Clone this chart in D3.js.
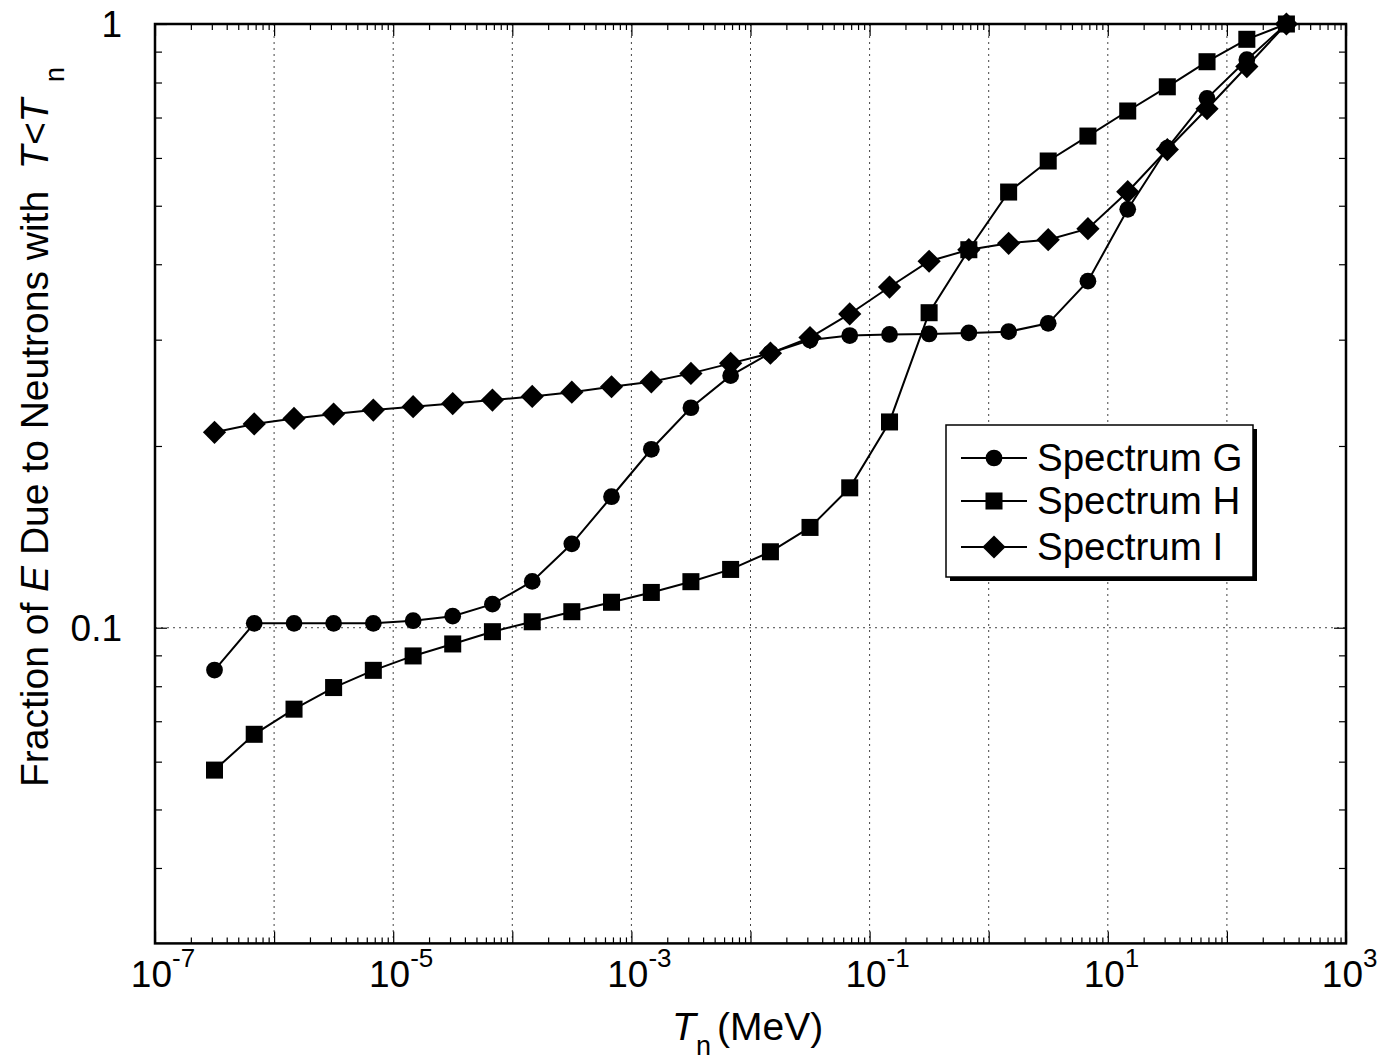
<!DOCTYPE html>
<html>
<head>
<meta charset="utf-8">
<script src="https://cdnjs.cloudflare.com/ajax/libs/d3/7.8.5/d3.min.js"></script>
<style>
  html, body { margin: 0; padding: 0; background: #fff; overflow: hidden; }
  svg { display: block; }
  svg text { font-family: "Liberation Sans", Arial, Helvetica, sans-serif; fill: #000; }
</style>
</head>
<body>
<div id="plotdiv"></div>
<script>
// Neutron kinetic energy T_n (MeV), one point every third of a decade
var energies = [3.16e-7, 6.81e-7, 1.47e-6, 3.16e-6, 6.81e-6, 1.47e-5, 3.16e-5, 6.81e-5,
  1.47e-4, 3.16e-4, 6.81e-4, 1.47e-3, 3.16e-3, 6.81e-3, 1.47e-2, 3.16e-2, 6.81e-2,
  0.147, 0.316, 0.681, 1.47, 3.16, 6.81, 14.7, 31.6, 68.1, 147, 316];

// Fraction of E due to neutrons with T < T_n
var spectrumG = [0.0851, 0.1017, 0.1017, 0.1017, 0.1017, 0.1027, 0.1045, 0.1094,
  0.1193, 0.1377, 0.1648, 0.1975, 0.2314, 0.2615, 0.2851, 0.2996, 0.3048,
  0.3060, 0.3066, 0.3078, 0.3093, 0.3193, 0.3750, 0.4932, 0.6230, 0.7531, 0.8727, 1.0];
var spectrumH = [0.0581, 0.0666, 0.0733, 0.0796, 0.0850, 0.0898, 0.0940, 0.0985,
  0.1023, 0.1063, 0.1102, 0.1144, 0.1192, 0.1249, 0.1336, 0.1466, 0.1705,
  0.2192, 0.3325, 0.4228, 0.5268, 0.5930, 0.6522, 0.7176, 0.7870, 0.8660, 0.9433, 1.0];
var spectrumI = [0.2107, 0.2175, 0.2222, 0.2259, 0.2294, 0.2323, 0.2351, 0.2383,
  0.2416, 0.2456, 0.2507, 0.2555, 0.2638, 0.2741, 0.2849, 0.3024, 0.3309,
  0.3667, 0.4046, 0.4228, 0.4333, 0.4393, 0.4581, 0.5275, 0.6196, 0.7238, 0.8503, 1.0];

var seriesNames = ["Spectrum G", "Spectrum H", "Spectrum I"];
var seriesMarkers = ["circle", "square", "diamond"];

// Tick labels
var xTickValues = [1e-7, 1e-5, 1e-3, 1e-1, 1e1, 1e3];
var xTickExponents = ["-7", "-5", "-3", "-1", "1", "3"];
var yTickValues = [0.1, 1];
var yTickLabels = ["0.1", "1"];

// Size of figure and margins
var outerWidth = 1397;
var outerHeight = 1064;
var margin = { left: 155, top: 24, right: 51, bottom: 120.6 };
var innerWidth = outerWidth - margin.left - margin.right;
var innerHeight = outerHeight - margin.top - margin.bottom;

var vis = d3.select("#plotdiv").append("svg")
  .attr("width", outerWidth)
  .attr("height", outerHeight);

var g = vis.append("g")
  .attr("transform", "translate(" + margin.left + "," + margin.top + ")");

// Log scales on both axes
var xScale = d3.scaleLog().domain([1e-7, 1e3]).range([0, innerWidth]);
var yScale = d3.scaleLog().domain([0.03, 1]).range([innerHeight, 0]);

// Minor tick positions (every 2..9 of each decade)
var xMinor = [];
for (var e = -7; e < 3; e++) {
  for (var m = 2; m <= 9; m++) xMinor.push(m * Math.pow(10, e));
}
var yMinor = [0.04, 0.05, 0.06, 0.07, 0.08, 0.09, 0.2, 0.3, 0.4, 0.5, 0.6, 0.7, 0.8, 0.9];
var xMajor = [];
for (var e2 = -7; e2 <= 3; e2++) xMajor.push(Math.pow(10, e2));

// Dotted grid on the decades
var gGrid = g.append("g");
gGrid.selectAll("line.vx").data(xMajor.slice(1, -1)).enter().append("line")
  .attr("x1", function(d) { return xScale(d); })
  .attr("x2", function(d) { return xScale(d); })
  .attr("y1", 0).attr("y2", innerHeight)
  .attr("stroke", "#444").attr("stroke-width", 1)
  .attr("stroke-dasharray", "2,4");
gGrid.append("line")
  .attr("x1", 0).attr("x2", innerWidth)
  .attr("y1", yScale(0.1)).attr("y2", yScale(0.1))
  .attr("stroke", "#444").attr("stroke-width", 1)
  .attr("stroke-dasharray", "2,4");

// Ticks on all four sides, labels drawn separately
function tickAxis(axisFn, scale, values, size, transform) {
  var ga = g.append("g")
    .attr("transform", transform)
    .call(axisFn(scale).tickValues(values).tickSize(size).tickFormat("").tickSizeOuter(0));
  ga.select(".domain").remove();
  ga.selectAll("text").remove();
  ga.selectAll("line").attr("stroke", "#000").attr("stroke-width", 1.2);
}
tickAxis(d3.axisBottom, xScale, xMinor, -6, "translate(0," + innerHeight + ")");
tickAxis(d3.axisBottom, xScale, xMajor, -12, "translate(0," + innerHeight + ")");
tickAxis(d3.axisTop, xScale, xMinor, -6, "translate(0,0)");
tickAxis(d3.axisTop, xScale, xMajor, -12, "translate(0,0)");
tickAxis(d3.axisLeft, yScale, yMinor, -7, "translate(0,0)");
tickAxis(d3.axisLeft, yScale, yTickValues, -12, "translate(0,0)");
tickAxis(d3.axisRight, yScale, yMinor, -7, "translate(" + innerWidth + ",0)");
tickAxis(d3.axisRight, yScale, yTickValues, -12, "translate(" + innerWidth + ",0)");

// Series lines and markers
var allSeries = [spectrumG, spectrumH, spectrumI];
var line = d3.line()
  .x(function(d, i) { return xScale(energies[i]); })
  .y(function(d) { return yScale(d); });

function markerPath(kind) {
  if (kind === "circle") return d3.symbol().type(d3.symbolCircle).size(220)();
  if (kind === "square") return d3.symbol().type(d3.symbolSquare).size(290)();
  return d3.symbol().type(d3.symbolSquare).size(270)();
}
function markerRotate(kind) { return kind === "diamond" ? " rotate(45)" : ""; }

allSeries.forEach(function(vals, s) {
  var gs = g.append("g");
  gs.append("path")
    .attr("d", line(vals))
    .attr("fill", "none")
    .attr("stroke", "#000")
    .attr("stroke-width", 2);
  gs.selectAll("path.mk").data(vals).enter().append("path")
    .attr("class", "mk")
    .attr("d", markerPath(seriesMarkers[s]))
    .attr("transform", function(d, i) {
      return "translate(" + xScale(energies[i]) + "," + yScale(d) + ")" + markerRotate(seriesMarkers[s]);
    })
    .attr("fill", "#000");
});

// Axes box
g.append("rect")
  .attr("width", innerWidth).attr("height", innerHeight)
  .attr("fill", "none").attr("stroke", "#000").attr("stroke-width", 2.5);

// X tick labels: 10 with a superscript exponent (separate text pieces)
xTickValues.forEach(function(v, i) {
  var cx = xScale(v);
  g.append("text")
    .attr("x", cx + 17)
    .attr("y", innerHeight + 44)
    .attr("text-anchor", "end")
    .style("font-size", "37px")
    .text("10");
  g.append("text")
    .attr("x", cx + 17)
    .attr("y", innerHeight + 24)
    .attr("text-anchor", "start")
    .style("font-size", "26px")
    .text(xTickExponents[i]);
});

// Y tick labels
yTickValues.forEach(function(v, i) {
  g.append("text")
    .attr("x", -33)
    .attr("y", yScale(v))
    .attr("dy", "0.35em")
    .attr("text-anchor", "end")
    .style("font-size", "37px")
    .text(yTickLabels[i]);
});

// X axis title: T_n (MeV)
vis.append("text")
  .attr("x", 672).attr("y", 1040)
  .style("font-size", "39px").style("font-style", "italic")
  .text("T");
vis.append("text")
  .attr("x", 696).attr("y", 1055)
  .style("font-size", "27px")
  .text("n");
vis.append("text")
  .attr("x", 717).attr("y", 1040)
  .style("font-size", "39px")
  .text("(MeV)");

// Y axis title, rotated
var yLabel = vis.append("text")
  .attr("transform", "translate(48,787) rotate(-90)")
  .style("font-size", "39px");
yLabel.append("tspan").text("Fraction of ");
yLabel.append("tspan").style("font-style", "italic").text("E");
yLabel.append("tspan").text(" Due to Neutrons with\u00a0 ");
yLabel.append("tspan").style("font-style", "italic").text("T<T");
vis.append("text")
  .attr("transform", "translate(64,82) rotate(-90)")
  .style("font-size", "27px")
  .text("n");

// Legend with drop shadow
var legend = vis.append("g").attr("transform", "translate(946,425)");
var legendW = 307, legendH = 152;
legend.append("rect").attr("x", 4).attr("y", 4)
  .attr("width", legendW).attr("height", legendH).attr("fill", "#000");
legend.append("rect")
  .attr("width", legendW).attr("height", legendH)
  .attr("fill", "#fff").attr("stroke", "#000").attr("stroke-width", 1.5);
var legendRows = [33, 76, 122];
seriesNames.forEach(function(name, s) {
  var row = legend.append("g").attr("transform", "translate(0," + legendRows[s] + ")");
  row.append("line").attr("x1", 15).attr("x2", 81).attr("y1", 0).attr("y2", 0)
    .attr("stroke", "#000").attr("stroke-width", 2);
  row.append("path")
    .attr("d", markerPath(seriesMarkers[s]))
    .attr("transform", "translate(48,0)" + markerRotate(seriesMarkers[s]))
    .attr("fill", "#000");
  row.append("text")
    .attr("x", 91).attr("y", 0).attr("dy", "0.35em")
    .style("font-size", "38.5px")
    .text(name);
});
</script>
</body>
</html>
